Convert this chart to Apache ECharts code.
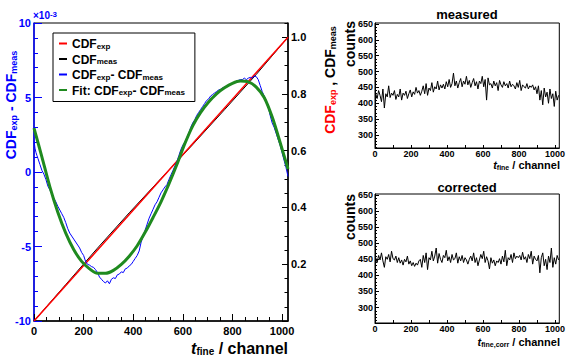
<!DOCTYPE html>
<html><head><meta charset="utf-8">
<script src="https://cdn.jsdelivr.net/npm/echarts@6/dist/echarts.min.js"></script>
<style>html,body{margin:0;padding:0;background:#fff}#c{width:568px;height:363px}</style>
</head><body><div id="c"></div>
<script>
// ---------- data ----------
const channelTicks = [0, 200, 400, 600, 800, 1000];
const diffTicks = [-10, -5, 0, 5, 10];
const cdfTicks = [0.2, 0.4, 0.6, 0.8, 1.0];
const countTicks = [300, 350, 400, 450, 500, 550, 600, 650];

const diffChannels = [0,4,8,12,16,24,32,40,48,56,64,72,80,88,96,104,112,120,128,136,144,152,160,168,176,184,192,200,208,216,224,232,240,248,256,264,272,280,288,296,304,312,320,328,336,344,352,360,368,376,384,392,400,408,416,424,432,440,448,456,464,472,480,488,496,504,512,520,528,536,544,552,560,568,576,584,592,600,608,616,624,632,640,648,656,664,672,680,688,696,704,712,720,728,736,744,752,760,768,776,784,792,800,808,816,824,832,840,848,856,864,872,880,888,896,904,912,920,928,936,944,952,960,968,976,984,992,1000,1008,1016,1024];
const diffValues = [2.1,1.6,1.3,1.1,0.9,0.5,0.1,-0.15,-0.5,-0.95,-1.2,-1.5,-1.75,-2.0,-2.3,-2.55,-2.8,-3.05,-3.4,-3.8,-4.1,-4.3,-4.5,-4.7,-4.9,-5.1,-5.4,-5.6,-6.0,-6.2,-6.25,-6.35,-6.4,-6.55,-6.75,-7.05,-7.2,-7.35,-7.45,-7.3,-7.5,-7.2,-7.1,-7.15,-6.9,-6.85,-6.7,-6.75,-6.5,-6.45,-6.3,-6.2,-6.0,-5.8,-5.6,-5.3,-4.7,-4.3,-3.9,-3.5,-3.1,-2.8,-2.5,-2.2,-2.0,-1.7,-1.4,-1.2,-1.0,-0.85,-0.5,-0.2,0.1,0.4,0.7,1.1,1.5,1.8,2.0,2.3,2.6,3.0,3.3,3.5,3.8,4.0,4.2,4.4,4.6,4.8,4.9,5.1,5.2,5.3,5.4,5.5,5.55,5.65,5.7,5.75,5.85,5.9,5.95,6.0,6.1,6.15,6.2,6.2,6.3,6.2,6.3,6.35,6.3,6.45,6.4,6.2,5.8,5.4,5.1,4.8,4.4,3.8,3.3,3.0,2.6,2.2,1.8,1.3,0.8,0.3,-0.3];

const fitChannels = [0,32,64,96,128,160,192,224,256,288,320,352,384,416,448,480,512,544,576,608,640,672,704,736,768,800,832,864,896,928,960,992,1024];
const fitValues = [2.95,1.0,-1.0,-2.7,-4.1,-5.2,-6.0,-6.5,-6.8,-6.8,-6.6,-6.2,-5.65,-4.95,-4.05,-3.05,-2.0,-0.8,0.5,1.9,3.1,4.0,4.7,5.25,5.65,5.95,6.1,6.05,5.7,5.0,3.7,2.0,0.2];

const cdfExpChannels = [0, 1024];
const cdfExpValues = [0, 1.0];
const cdfMeasChannels = [0, 128, 256, 384, 512, 640, 768, 896, 1024];
const cdfMeasValues = [0, 0.1284, 0.2568, 0.3813, 0.502, 0.6217, 0.7444, 0.8687, 1.0];

const histBinWidth = 8;
const measuredCounts = [
430,415,440,425,405,445,385,430,420,455,418,432,425,440,412,428,
420,445,410,432,425,438,415,430,442,420,436,428,450,432,440,425,
438,455,430,462,425,448,440,465,435,452,445,470,442,458,448,460,
445,468,452,475,450,462,495,455,470,448,465,478,452,470,460,485,
458,472,450,465,478,455,468,445,470,462,485,452,475,410,480,458,
462,448,470,455,465,440,472,458,450,468,455,462,448,470,452,460,
455,445,465,450,472,440,458,452,448,462,445,455,450,458,442,452,
430,455,410,440,395,448,420,435,400,445,415,430,390,438,410,425];
const correctedCounts = [
455,440,462,448,470,445,425,458,450,465,442,475,452,448,460,440,
455,438,448,432,450,442,460,435,445,430,440,428,438,432,445,450,
425,462,440,470,418,455,448,475,445,460,485,438,468,450,440,462,
455,478,445,458,440,465,448,452,470,438,458,445,462,440,455,448,
435,450,460,445,470,440,455,430,448,465,452,475,440,458,445,420,
455,438,448,430,445,440,452,435,460,442,478,430,455,448,465,440,
470,452,460,455,462,448,472,450,458,440,465,452,475,435,460,450,
445,462,408,455,470,430,450,418,460,440,485,425,455,435,462,448];

const legendLabels = {
  exp: '{m|CDF}{s|exp}',
  meas: '{m|CDF}{s|meas}',
  diff: '{m|CDF}{s|exp}{m|- CDF}{s|meas}',
  fit: '{m|Fit: CDF}{s|exp}{m|- CDF}{s|meas}'
};

// ---------- helpers ----------
const FONT = 'Liberation Sans, Arial, Helvetica, sans-serif';
const BLUE = '#0000ff', RED = '#ff0000', GREEN = '#1f8a1f';
const zip = (xs, ys) => xs.map((x, i) => [x, ys[i]]);
const hist = arr => arr.map((v, i) => [i * histBinWidth + histBinWidth / 2, v]);
const range = (a, b, s, skip) => { const r = []; for (let v = a; v <= b + 1e-9; v += s) { const q = Math.round(v * 1000) / 1000; if (!skip || !skip(q)) r.push(q); } return r; };
const plain = v => String(v);

const xMinorLeft = range(50, 1000, 50, v => v % 200 === 0);
const xMinorRight = range(100, 1000, 100, v => v % 200 === 0);
const diffMinor = range(-10, 10, 1, v => v % 5 === 0);
const cdfMajorTicks = [0, 0.2, 0.4, 0.6, 0.8, 1.0];
const cdfMinor = range(0.05, 1.05, 0.05, v => Math.abs(v * 5 - Math.round(v * 5)) < 1e-6);
const countMinor = range(260, 650, 10, v => v % 50 === 0);

function xAx(grid, min, max, ticks, minor, opts) {
  const main = {
    gridIndex: grid, type: 'value', min, max, position: 'bottom',
    axisLine: { onZero: false, lineStyle: { color: '#000', width: opts.lw } },
    axisTick: { inside: true, length: opts.major, customValues: ticks, lineStyle: { color: '#000', width: 1 } },
    axisLabel: { customValues: ticks, fontSize: opts.fs, fontWeight: 'bold', color: '#000', fontFamily: FONT, margin: opts.margin, formatter: plain },
    splitLine: { show: false }
  };
  const mn = {
    gridIndex: grid, type: 'value', min, max, position: 'bottom',
    axisLine: { show: false, onZero: false },
    axisTick: { inside: true, length: opts.minor, customValues: minor, lineStyle: { color: '#000', width: 1 } },
    axisLabel: { show: false }, splitLine: { show: false }
  };
  return [main, mn];
}
function yAx(grid, min, max, pos, ticks, labels, minor, opts) {
  const main = {
    gridIndex: grid, type: 'value', min, max, position: pos,
    axisLine: { onZero: false, lineStyle: { color: opts.color, width: opts.lw } },
    axisTick: { inside: true, length: opts.major, customValues: ticks, lineStyle: { color: opts.color, width: 1 } },
    axisLabel: { customValues: labels, fontSize: opts.fs, fontWeight: 'bold', color: opts.color, fontFamily: FONT, margin: opts.margin, formatter: opts.fmt || plain },
    splitLine: { show: false }
  };
  const mn = {
    gridIndex: grid, type: 'value', min, max, position: pos,
    axisLine: { show: false, onZero: false },
    axisTick: { inside: true, length: opts.minor, customValues: minor, lineStyle: { color: opts.color, width: 1 } },
    axisLabel: { show: false }, splitLine: { show: false }
  };
  return [main, mn];
}

const xAxes = [
  ...xAx(0, 0, 1024, channelTicks, xMinorLeft, { lw: 1.5, major: 7, minor: 4, fs: 11, margin: 4 }),
  ...xAx(1, 0, 1024, channelTicks, xMinorRight, { lw: 1, major: 3, minor: 3, fs: 9, margin: 1 }),
  ...xAx(2, 0, 1024, channelTicks, xMinorRight, { lw: 1, major: 3, minor: 3, fs: 9, margin: 1 })
];
const yAxes = [
  ...yAx(0, -10, 10, 'left', diffTicks, diffTicks, diffMinor, { color: BLUE, lw: 1.5, major: 8, minor: 4, fs: 11, margin: 3 }),
  ...yAx(0, 0, 1.05, 'right', cdfMajorTicks, cdfTicks, cdfMinor, { color: '#000', lw: 1.5, major: 6, minor: 3.5, fs: 11, margin: 3, fmt: v => v.toFixed(1) }),
  ...yAx(1, 259, 653, 'left', countTicks, countTicks, countMinor, { color: '#000', lw: 1, major: 4, minor: 2, fs: 9, margin: 2 }),
  ...yAx(2, 252, 653, 'left', countTicks, countTicks, countMinor, { color: '#000', lw: 1, major: 4, minor: 2, fs: 9, margin: 2 })
];

const line = (name, xi, yi, data, color, width, extra) => Object.assign({
  name, type: 'line', xAxisIndex: xi, yAxisIndex: yi, data, showSymbol: false, symbol: 'none',
  color, itemStyle: { color }, lineStyle: { color, width }, animation: false, silent: true
}, extra || {});

const mainRich = {
  m: { fontSize: 12, fontWeight: 'bold', color: '#000', fontFamily: FONT, lineHeight: 13, verticalAlign: 'bottom' },
  s: { fontSize: 8, fontWeight: 'bold', color: '#000', fontFamily: FONT, lineHeight: 5, verticalAlign: 'bottom' }
};

function titleRich(fs, sfs, color, subDrop) {
  return {
    m: { fontSize: fs, fontWeight: 'bold', fill: color, fontFamily: FONT, lineHeight: fs + 2, verticalAlign: 'bottom' },
    i: { fontSize: fs, fontWeight: 'bold', fontStyle: 'italic', fill: color, fontFamily: FONT, lineHeight: fs + 2, verticalAlign: 'bottom' },
    s: { fontSize: sfs, fontWeight: 'bold', fill: color, fontFamily: FONT, lineHeight: Math.max(1, fs + 2 - 2 * subDrop), verticalAlign: 'bottom' },
    r: { fontSize: fs, fontWeight: 'bold', fill: RED, fontFamily: FONT, lineHeight: fs + 2, verticalAlign: 'bottom' },
    rs: { fontSize: sfs, fontWeight: 'bold', fill: RED, fontFamily: FONT, lineHeight: Math.max(1, fs + 2 - 2 * subDrop), verticalAlign: 'bottom' }
  };
}

const chart = echarts.init(document.getElementById('c'), null, { renderer: 'svg' });
chart.setOption({
  animation: false,
  backgroundColor: '#fff',
  textStyle: { fontFamily: FONT },
  grid: [
    { left: 34, top: 23, width: 254, height: 298, show: true, borderColor: '#000', borderWidth: 1 },
    { left: 375, top: 23, width: 185, height: 125, show: true, borderColor: '#000', borderWidth: 1 },
    { left: 375, top: 194, width: 185, height: 129, show: true, borderColor: '#000', borderWidth: 1 }
  ],
  title: [
    { text: 'measured', left: 467, top: 8, textAlign: 'center', textStyle: { fontSize: 13, fontWeight: 'bold', color: '#000', fontFamily: FONT } , padding: 0},
    { text: 'corrected', left: 467, top: 181, textAlign: 'center', textStyle: { fontSize: 13, fontWeight: 'bold', color: '#000', fontFamily: FONT }, padding: 0 }
  ],
  legend: {
    data: ['exp', 'meas', 'diff', 'fit'],
    orient: 'vertical', left: 53, top: 33,
    padding: [5, 10, 5, 6], itemGap: 3.5, itemWidth: 8, itemHeight: 2, icon: 'rect',
    backgroundColor: '#fff', borderColor: '#000', borderWidth: 1, borderRadius: 0,
    formatter: name => legendLabels[name],
    selectedMode: false,
    textStyle: { fontFamily: FONT, rich: mainRich }
  },
  xAxis: xAxes,
  yAxis: yAxes,
  series: [
    line('meas', 0, 2, zip(cdfMeasChannels, cdfMeasValues), '#000', 1),
    line('exp', 0, 2, zip(cdfExpChannels, cdfExpValues), RED, 1.5),
    line('diff', 0, 0, zip(diffChannels, diffValues), BLUE, 1),
    line('fit', 0, 0, zip(fitChannels, fitValues), GREEN, 3, { smooth: 0.3 }),
    line('measured', 2, 4, hist(measuredCounts), '#000', 1),
    line('corrected', 4, 6, hist(correctedCounts), '#000', 1)
  ],
  graphic: [
    { type: 'text', x: 10, y: 105, rotation: Math.PI / 2,
      style: { text: '{m|CDF}{s|exp}{m| - CDF}{s|meas}', rich: titleRich(14, 9, BLUE, 6), align: 'center', verticalAlign: 'middle' } },
    { type: 'text', x: 33, y: 16,
      style: { text: '{m|×10}{p|-3}', align: 'left', verticalAlign: 'middle', rich: {
        m: { fontSize: 10, fontWeight: 'bold', fill: BLUE, fontFamily: FONT, lineHeight: 12, verticalAlign: 'top' },
        p: { fontSize: 8, fontWeight: 'bold', fill: BLUE, fontFamily: FONT, lineHeight: 3, verticalAlign: 'top' } } } },
    { type: 'text', x: 329, y: 80, rotation: Math.PI / 2,
      style: { text: '{r|CDF}{rs|exp}{m| , CDF}{s|meas}', rich: titleRich(14, 9, '#000', 6), align: 'center', verticalAlign: 'middle' } },
    { type: 'text', x: 288, y: 347,
      style: { text: '{i|t}{s|fine}{m| / channel}', rich: titleRich(16, 10, '#000', 8), align: 'right', verticalAlign: 'middle' } },
    { type: 'text', x: 350, y: 44, rotation: Math.PI / 2,
      style: { text: 'counts', fontSize: 14, fontWeight: 'bold', fill: '#000', fontFamily: FONT, align: 'center', verticalAlign: 'middle' } },
    { type: 'text', x: 350, y: 217, rotation: Math.PI / 2,
      style: { text: 'counts', fontSize: 14, fontWeight: 'bold', fill: '#000', fontFamily: FONT, align: 'center', verticalAlign: 'middle' } },
    { type: 'text', x: 560, y: 164,
      style: { text: '{i|t}{s|fine}{m| / channel}', rich: titleRich(11, 7, '#000', 5), align: 'right', verticalAlign: 'middle' } },
    { type: 'text', x: 560, y: 341,
      style: { text: '{i|t}{s|fine,corr}{m| / channel}', rich: titleRich(11, 7, '#000', 5), align: 'right', verticalAlign: 'middle' } }
  ]
});
</script>
</body></html>
